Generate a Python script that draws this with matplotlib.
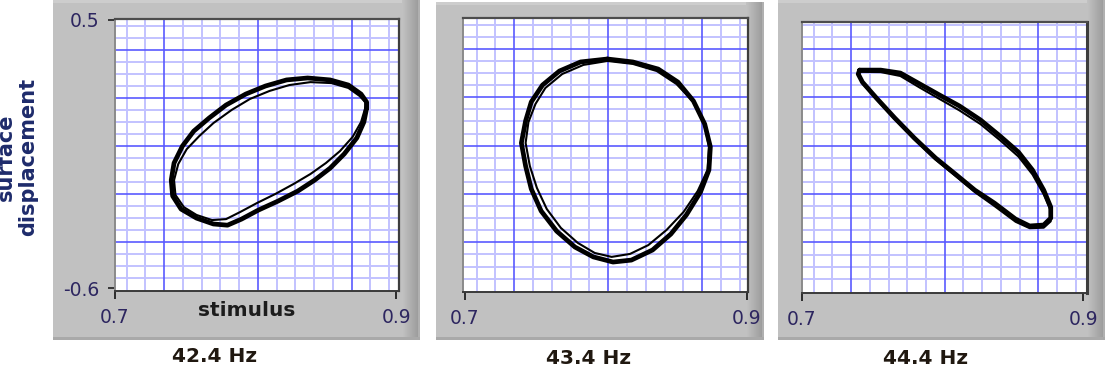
import matplotlib
matplotlib.use('Agg')
import matplotlib.pyplot as plt
from matplotlib.patches import Rectangle
import numpy as np

# ---------------- data ----------------
titles = ['42.4 Hz', '43.4 Hz', '44.4 Hz']
x_ticks = [0.7, 0.9]
x_tick_labels = ['0.7', '0.9']
y_ticks = [-0.6, 0.5]
y_tick_labels = ['-0.6', '0.5']
x_label = 'stimulus'
y_label = 'surface\ndisplacement'

# 42.4 Hz : main trace and a second cycle
x1a = [0.879, 0.877, 0.872, 0.863, 0.853, 0.842, 0.830, 0.816, 0.802, 0.790, 0.780, 0.770, 0.758, 0.747, 0.741,
       0.740, 0.742, 0.748, 0.756, 0.767, 0.779, 0.793, 0.807, 0.822, 0.837, 0.853, 0.866, 0.875, 0.879, 0.879]
y1a = [0.139, 0.081, 0.016, -0.050, -0.108, -0.157, -0.202, -0.243, -0.280, -0.317, -0.342, -0.337, -0.313, -0.276, -0.222,
       -0.157, -0.087, -0.017, 0.044, 0.098, 0.151, 0.196, 0.229, 0.254, 0.262, 0.254, 0.233, 0.196, 0.163, 0.139]
x1b = [0.878, 0.875, 0.869, 0.860, 0.850, 0.839, 0.827, 0.814, 0.801, 0.789, 0.779, 0.769, 0.758, 0.749, 0.743,
       0.742, 0.745, 0.751, 0.760, 0.770, 0.783, 0.796, 0.810, 0.824, 0.839, 0.854, 0.866, 0.874, 0.878, 0.878]
y1b = [0.139, 0.081, 0.020, -0.038, -0.087, -0.132, -0.173, -0.214, -0.251, -0.288, -0.317, -0.321, -0.300, -0.268, -0.218,
       -0.157, -0.091, -0.030, 0.024, 0.077, 0.131, 0.176, 0.209, 0.233, 0.245, 0.241, 0.221, 0.188, 0.163, 0.139]

# 43.4 Hz
x2a = [0.801, 0.819, 0.837, 0.851, 0.862, 0.870, 0.874, 0.873, 0.867, 0.857, 0.846, 0.833, 0.818, 0.805,
       0.791, 0.778, 0.765, 0.754, 0.747, 0.743, 0.740, 0.743, 0.747, 0.755, 0.767, 0.782, 0.801]
y2a = [0.337, 0.325, 0.296, 0.243, 0.166, 0.072, -0.021, -0.115, -0.205, -0.298, -0.376, -0.441, -0.482, -0.490,
       -0.469, -0.429, -0.364, -0.282, -0.192, -0.099, -0.005, 0.085, 0.162, 0.231, 0.288, 0.325, 0.337]
x2b = [0.801, 0.819, 0.836, 0.850, 0.862, 0.870, 0.873, 0.872, 0.865, 0.855, 0.843, 0.830, 0.817, 0.804,
       0.792, 0.780, 0.768, 0.758, 0.751, 0.746, 0.743, 0.745, 0.750, 0.757, 0.769, 0.784, 0.801]
y2b = [0.329, 0.317, 0.288, 0.235, 0.162, 0.068, -0.021, -0.115, -0.201, -0.286, -0.359, -0.421, -0.457, -0.469,
       -0.453, -0.412, -0.351, -0.274, -0.188, -0.099, -0.005, 0.080, 0.154, 0.219, 0.276, 0.313, 0.329]

# 44.4 Hz
x3a = [0.741, 0.756, 0.770, 0.784, 0.798, 0.812, 0.827, 0.841, 0.854, 0.864, 0.872, 0.877, 0.877,
       0.872, 0.862, 0.852, 0.837, 0.823, 0.809, 0.795, 0.780, 0.766, 0.753, 0.743, 0.740, 0.741]
y3a = [0.292, 0.292, 0.280, 0.235, 0.190, 0.146, 0.089, 0.023, -0.042, -0.115, -0.197, -0.266, -0.311,
       -0.339, -0.343, -0.315, -0.250, -0.197, -0.131, -0.066, 0.015, 0.097, 0.178, 0.243, 0.276, 0.292]
x3b = [0.741, 0.756, 0.770, 0.784, 0.798, 0.812, 0.827, 0.841, 0.854, 0.864, 0.872, 0.877, 0.877,
       0.872, 0.862, 0.852, 0.837, 0.823, 0.809, 0.795, 0.780, 0.766, 0.753, 0.743, 0.740, 0.741]
y3b = [0.285, 0.284, 0.268, 0.220, 0.174, 0.128, 0.072, 0.006, -0.060, -0.133, -0.214, -0.282, -0.324,
       -0.350, -0.352, -0.326, -0.262, -0.205, -0.138, -0.072, 0.010, 0.092, 0.173, 0.238, 0.272, 0.285]

traces = [[(x1a, y1a), (x1b, y1b)],
          [(x2a, y2a), (x2b, y2b)],
          [(x3a, y3a), (x3b, y3b)]]

# ---------------- layout / style ----------------
W, H = 1105, 375
fig = plt.figure(figsize=(W / 100, H / 100), dpi=100)
fig.patch.set_facecolor('white')

def px_rect(x0, y0, x1, y1, color, z=-10):
    fig.patches.append(Rectangle((x0 / W, 1 - y1 / H), (x1 - x0) / W, (y1 - y0) / H,
                                 transform=fig.transFigure, facecolor=color,
                                 edgecolor='none', zorder=z))

frames = [(53, 0, 420, 340), (436, 2, 764, 340), (778, 0, 1105, 340)]
for (x0, y0, x1, y1) in frames:
    px_rect(x0, y0, x1, y1, '#c1c1c1')
    px_rect(x0, y0, x1, y0 + 3, '#cdcdcd')
    n = 16
    for k in range(n):
        c = 0xc1 - int(0x24 * k / (n - 1))
        px_rect(x1 - n - 2 + k, y0, x1 - n - 1 + k, y1, '#%02x%02x%02x' % (c, c, c))
    px_rect(x1 - 2, y0, x1, y1, '#b0b0b0')
    px_rect(x0, y1 - 3, x1, y1, '#a9a9a9')

ax_px = [(115, 19, 399, 291), (463, 18, 748, 292), (802, 22, 1087, 293)]
xlims = [(0.700, 0.902), (0.6986, 0.9007), (0.700, 0.9028)]
ylims = [(-0.612, 0.504), (-0.612, 0.504), (-0.616, 0.488)]

MAJ = '#5a5aff'
MIN = '#c2c2ff'
x_major0, x_major_step = 0.7349, 0.2 / 3
y_major0, y_major_step = -0.41, 0.197

for i, (x0, y0, x1, y1) in enumerate(ax_px):
    ax = fig.add_axes([x0 / W, 1 - y1 / H, (x1 - x0) / W, (y1 - y0) / H])
    ax.set_zorder(1)
    ax.set_facecolor('white')
    ax.set_xlim(*xlims[i])
    ax.set_ylim(*ylims[i])

    # grid
    for j in range(-4, 16):
        v = x_major0 + j * x_major_step / 5
        if xlims[i][0] < v < xlims[i][1] and j % 5 != 0:
            ax.axvline(v, color=MIN, lw=1.4, zorder=1)
    for j in range(-12, 22):
        v = y_major0 + j * y_major_step / 4
        if ylims[i][0] < v < ylims[i][1] and j % 4 != 0:
            ax.axhline(v, color=MIN, lw=1.4, zorder=1)
    for j in range(0, 3):
        ax.axvline(x_major0 + j * x_major_step, color=MAJ, lw=1.2, zorder=2)
    for j in range(0, 5):
        ax.axhline(y_major0 + j * y_major_step, color=MAJ, lw=1.2, zorder=2)

    # traces
    for k, (xs, ys) in enumerate(traces[i]):
        ax.plot(xs, ys, color='black', lw=(3.4 if k == 0 else 1.5),
                solid_joinstyle='round', solid_capstyle='round', zorder=4)

    # spines
    ax.spines['top'].set(color='#4d4d4d', lw=1.6)
    ax.spines['right'].set(color='#3d3d3d', lw=(2.2 if i == 2 else 1.6))
    ax.spines['bottom'].set(color='#3a3a3a', lw=1.4)
    ax.spines['left'].set(color='#8a8a8a', lw=1.4)
    for s in ax.spines.values():
        s.set_zorder(5)

    ax.set_xticks(x_ticks)
    ax.set_xticklabels(x_tick_labels)
    ax.tick_params(axis='x', direction='out', length=6, width=1.3, color='#202020',
                   pad=6, labelsize=13.5, labelcolor='#2d2660')
    if i == 0:
        ax.set_yticks(y_ticks)
        ax.set_yticklabels(y_tick_labels)
        ax.tick_params(axis='y', direction='out', length=5, width=1.2, color='#202020',
                       pad=6, labelsize=13.5, labelcolor='#2d2660')
    else:
        ax.set_yticks([])

fig.text(17 / W, 1 - 157 / H, y_label, rotation=90, ha='center', va='center',
         fontsize=15, fontweight='bold', color='#1e2b6b', linespacing=1.1,
         multialignment='center', zorder=3)
fig.text(247 / W, 1 - 311 / H, x_label, ha='center', va='center', fontsize=14.5,
         fontweight='bold', color='#1c1c1c', zorder=3)

title_px = [(215, 357), (589, 358), (926, 358)]
for t, (tx, ty) in zip(titles, title_px):
    fig.text(tx / W, 1 - ty / H, t, ha='center', va='center', fontsize=14.5,
             fontweight='bold', color='#201810', zorder=3)

fig.savefig('out.png', dpi=100, facecolor='white')
